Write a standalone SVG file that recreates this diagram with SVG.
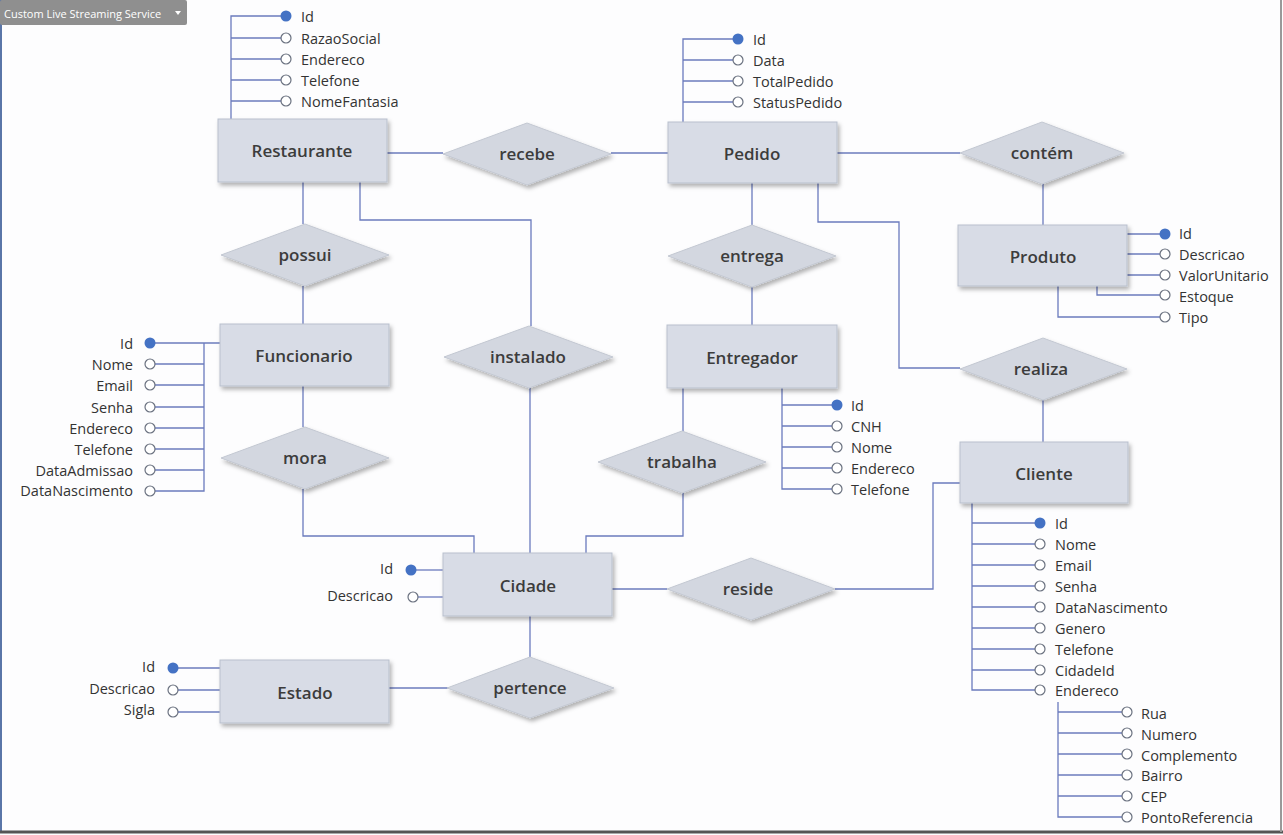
<svg xmlns="http://www.w3.org/2000/svg" width="1283" height="835" viewBox="0 0 1283 835">
<defs>
<filter id="sh" x="-10%" y="-10%" width="130%" height="140%">
<feDropShadow dx="2" dy="3" stdDeviation="2" flood-color="#000" flood-opacity="0.3"/>
</filter>
<style>
.ent{fill:#d8dce6;stroke:#b9c0cd;stroke-width:1;filter:url(#sh)}
.rel{fill:#d3d7e0;stroke:#c3c8d2;stroke-width:1;filter:url(#sh)}
.lbl{font-family:"Open Sans","Noto Sans",sans-serif;font-size:17px;font-weight:600;fill:#3c3c3c;text-anchor:middle;dominant-baseline:central}
.at{font-family:"Open Sans","Noto Sans",sans-serif;font-size:14.5px;fill:#333;dominant-baseline:central}
.atr{font-family:"Open Sans","Noto Sans",sans-serif;font-size:14.5px;fill:#333;dominant-baseline:central;text-anchor:end}
.ln{fill:none;stroke:#6b7bbd;stroke-width:1.3}
.pk{fill:#4472c4}
.op{fill:#fff;stroke:#6b7280;stroke-width:1.2}
</style>
</defs>
<rect width="1283" height="835" fill="#fdfdfe"/>
<line x1="1" y1="0" x2="1" y2="832" stroke="#5a76a8" stroke-width="2"/>
<line x1="0" y1="832" x2="1283" y2="832" stroke="#555" stroke-width="3"/>
<line x1="1281" y1="0" x2="1281" y2="832" stroke="#999" stroke-width="2"/>
<g id="toolbar">
<rect x="0" y="0" width="187" height="25" rx="2" fill="#8f8f8f"/>
<text x="4" y="13" font-family="'Open Sans','Noto Sans',sans-serif" font-size="11" fill="#fff" dominant-baseline="central">Custom Live Streaming Service</text>
<path d="M175 11 L181 11 L178 15 Z" fill="#fff"/>
</g>

<g id="connectors">
<polyline class="ln" points="387,153 443,153"/>
<polyline class="ln" points="611,153 668,153"/>
<polyline class="ln" points="837,153 960,153"/>
<polyline class="ln" points="1043,184 1043,225"/>
<polyline class="ln" points="303,182 303,224"/>
<polyline class="ln" points="303,286 303,324"/>
<polyline class="ln" points="360,182 360,220 531,220 531,326"/>
<polyline class="ln" points="530,388 530,553"/>
<polyline class="ln" points="752,183 752,225"/>
<polyline class="ln" points="752,287 752,325"/>
<polyline class="ln" points="818,183 818,222 899,222 899,368 960,368"/>
<polyline class="ln" points="303,386 303,427"/>
<polyline class="ln" points="303,489 303,536 474,536 474,553"/>
<polyline class="ln" points="683,388 683,431"/>
<polyline class="ln" points="683,493 683,536 586,536 586,553"/>
<polyline class="ln" points="612,589 667,589"/>
<polyline class="ln" points="835,589 933,589 933,483 960,483"/>
<polyline class="ln" points="1043,400 1043,442"/>
<polyline class="ln" points="530,616 530,657"/>
<polyline class="ln" points="449,688 389,688"/>
<polyline class="ln" points="231,119 231,16 286,16"/>
<polyline class="ln" points="231,38 286,38"/>
<polyline class="ln" points="231,59 286,59"/>
<polyline class="ln" points="231,80 286,80"/>
<polyline class="ln" points="231,101 286,101"/>
<polyline class="ln" points="683,122 683,39 738,39"/>
<polyline class="ln" points="683,60 738,60"/>
<polyline class="ln" points="683,81 738,81"/>
<polyline class="ln" points="683,102 738,102"/>
<polyline class="ln" points="1127,234 1165,234"/>
<polyline class="ln" points="1127,254 1165,254"/>
<polyline class="ln" points="1127,275 1165,275"/>
<polyline class="ln" points="1097,286 1097,295 1165,295"/>
<polyline class="ln" points="1058,286 1058,317 1165,317"/>
<polyline class="ln" points="150,343 220,343"/>
<polyline class="ln" points="204,343 204,491 150,491"/>
<polyline class="ln" points="150,364 204,364"/>
<polyline class="ln" points="150,385 204,385"/>
<polyline class="ln" points="150,407 204,407"/>
<polyline class="ln" points="150,428 204,428"/>
<polyline class="ln" points="150,449 204,449"/>
<polyline class="ln" points="150,470 204,470"/>
<polyline class="ln" points="782,388 782,489 837,489"/>
<polyline class="ln" points="782,405 837,405"/>
<polyline class="ln" points="782,426 837,426"/>
<polyline class="ln" points="782,447 837,447"/>
<polyline class="ln" points="782,468 837,468"/>
<polyline class="ln" points="411,570 443,570"/>
<polyline class="ln" points="413,597 443,597"/>
<polyline class="ln" points="173,668 220,668"/>
<polyline class="ln" points="173,690 220,690"/>
<polyline class="ln" points="173,712 220,712"/>
<polyline class="ln" points="972,503 972,690 1040,690"/>
<polyline class="ln" points="972,523 1040,523"/>
<polyline class="ln" points="972,544 1040,544"/>
<polyline class="ln" points="972,565 1040,565"/>
<polyline class="ln" points="972,586 1040,586"/>
<polyline class="ln" points="972,607 1040,607"/>
<polyline class="ln" points="972,628 1040,628"/>
<polyline class="ln" points="972,649 1040,649"/>
<polyline class="ln" points="972,670 1040,670"/>
<polyline class="ln" points="1058,702 1058,817 1127,817"/>
<polyline class="ln" points="1058,712 1127,712"/>
<polyline class="ln" points="1058,733 1127,733"/>
<polyline class="ln" points="1058,754 1127,754"/>
<polyline class="ln" points="1058,775 1127,775"/>
<polyline class="ln" points="1058,796 1127,796"/>
</g>

<g id="restaurante">
<rect class="ent" x="218" y="119" width="169" height="63"/>
<text class="lbl" x="302" y="150">Restaurante</text>
<circle class="pk" cx="286" cy="16" r="5.5"/>
<circle class="op" cx="286" cy="38" r="5"/>
<circle class="op" cx="286" cy="59" r="5"/>
<circle class="op" cx="286" cy="80" r="5"/>
<circle class="op" cx="286" cy="101" r="5"/>
<text class="at" x="301" y="16">Id</text>
<text class="at" x="301" y="38">RazaoSocial</text>
<text class="at" x="301" y="59">Endereco</text>
<text class="at" x="301" y="80">Telefone</text>
<text class="at" x="301" y="101">NomeFantasia</text>
</g>

<g id="pedido">
<rect class="ent" x="668" y="122" width="169" height="61"/>
<text class="lbl" x="752" y="153">Pedido</text>
<circle class="pk" cx="738" cy="39" r="5.5"/>
<circle class="op" cx="738" cy="60" r="5"/>
<circle class="op" cx="738" cy="81" r="5"/>
<circle class="op" cx="738" cy="102" r="5"/>
<text class="at" x="753" y="39">Id</text>
<text class="at" x="753" y="60">Data</text>
<text class="at" x="753" y="81">TotalPedido</text>
<text class="at" x="753" y="102">StatusPedido</text>
</g>

<g id="produto">
<rect class="ent" x="958" y="225" width="169" height="61"/>
<text class="lbl" x="1043" y="256">Produto</text>
<circle class="pk" cx="1165" cy="234" r="5.5"/>
<circle class="op" cx="1165" cy="254" r="5"/>
<circle class="op" cx="1165" cy="275" r="5"/>
<circle class="op" cx="1165" cy="295" r="5"/>
<circle class="op" cx="1165" cy="317" r="5"/>
<text class="at" x="1179" y="233">Id</text>
<text class="at" x="1179" y="254">Descricao</text>
<text class="at" x="1179" y="275">ValorUnitario</text>
<text class="at" x="1179" y="296">Estoque</text>
<text class="at" x="1179" y="317">Tipo</text>
</g>

<g id="funcionario">
<rect class="ent" x="220" y="324" width="169" height="62"/>
<text class="lbl" x="304" y="355">Funcionario</text>
<circle class="pk" cx="150" cy="343" r="5.5"/>
<circle class="op" cx="150" cy="364" r="5"/>
<circle class="op" cx="150" cy="385" r="5"/>
<circle class="op" cx="150" cy="407" r="5"/>
<circle class="op" cx="150" cy="428" r="5"/>
<circle class="op" cx="150" cy="449" r="5"/>
<circle class="op" cx="150" cy="470" r="5"/>
<circle class="op" cx="150" cy="491" r="5"/>
<text class="atr" x="133" y="343">Id</text>
<text class="atr" x="133" y="364">Nome</text>
<text class="atr" x="133" y="385">Email</text>
<text class="atr" x="133" y="407">Senha</text>
<text class="atr" x="133" y="428">Endereco</text>
<text class="atr" x="133" y="449">Telefone</text>
<text class="atr" x="133" y="470">DataAdmissao</text>
<text class="atr" x="133" y="490">DataNascimento</text>
</g>

<g id="entregador">
<rect class="ent" x="667" y="325" width="170" height="63"/>
<text class="lbl" x="752" y="357">Entregador</text>
<circle class="pk" cx="837" cy="405" r="5.5"/>
<circle class="op" cx="837" cy="426" r="5"/>
<circle class="op" cx="837" cy="447" r="5"/>
<circle class="op" cx="837" cy="468" r="5"/>
<circle class="op" cx="837" cy="489" r="5"/>
<text class="at" x="851" y="405">Id</text>
<text class="at" x="851" y="426">CNH</text>
<text class="at" x="851" y="447">Nome</text>
<text class="at" x="851" y="468">Endereco</text>
<text class="at" x="851" y="489">Telefone</text>
</g>

<g id="cidade">
<rect class="ent" x="443" y="553" width="169" height="63"/>
<text class="lbl" x="528" y="585">Cidade</text>
<circle class="pk" cx="411" cy="570" r="5.5"/>
<circle class="op" cx="413" cy="597" r="5"/>
<text class="atr" x="393" y="568">Id</text>
<text class="atr" x="393" y="595">Descricao</text>
</g>

<g id="estado">
<rect class="ent" x="220" y="660" width="169" height="63"/>
<text class="lbl" x="305" y="692">Estado</text>
<circle class="pk" cx="173" cy="668" r="5.5"/>
<circle class="op" cx="173" cy="690" r="5"/>
<circle class="op" cx="173" cy="712" r="5"/>
<text class="atr" x="155" y="666">Id</text>
<text class="atr" x="155" y="688">Descricao</text>
<text class="atr" x="155" y="709">Sigla</text>
</g>

<g id="cliente">
<rect class="ent" x="960" y="442" width="168" height="61"/>
<text class="lbl" x="1044" y="473">Cliente</text>
<circle class="pk" cx="1040" cy="523" r="5.5"/>
<circle class="op" cx="1040" cy="544" r="5"/>
<circle class="op" cx="1040" cy="565" r="5"/>
<circle class="op" cx="1040" cy="586" r="5"/>
<circle class="op" cx="1040" cy="607" r="5"/>
<circle class="op" cx="1040" cy="628" r="5"/>
<circle class="op" cx="1040" cy="649" r="5"/>
<circle class="op" cx="1040" cy="670" r="5"/>
<circle class="op" cx="1040" cy="690" r="5"/>
<text class="at" x="1055" y="523">Id</text>
<text class="at" x="1055" y="544">Nome</text>
<text class="at" x="1055" y="565">Email</text>
<text class="at" x="1055" y="586">Senha</text>
<text class="at" x="1055" y="607">DataNascimento</text>
<text class="at" x="1055" y="628">Genero</text>
<text class="at" x="1055" y="649">Telefone</text>
<text class="at" x="1055" y="670">CidadeId</text>
<text class="at" x="1055" y="690">Endereco</text>
<circle class="op" cx="1127" cy="712" r="5"/>
<circle class="op" cx="1127" cy="733" r="5"/>
<circle class="op" cx="1127" cy="754" r="5"/>
<circle class="op" cx="1127" cy="775" r="5"/>
<circle class="op" cx="1127" cy="796" r="5"/>
<circle class="op" cx="1127" cy="817" r="5"/>
<text class="at" x="1141" y="713">Rua</text>
<text class="at" x="1141" y="734">Numero</text>
<text class="at" x="1141" y="755">Complemento</text>
<text class="at" x="1141" y="775">Bairro</text>
<text class="at" x="1141" y="796">CEP</text>
<text class="at" x="1141" y="817">PontoReferencia</text>
</g>

<g id="recebe"><polygon class="rel" points="443,154 527,123 611,154 527,185"/><text class="lbl" x="527" y="153">recebe</text></g>
<g id="contem"><polygon class="rel" points="960,153 1042,122 1124,153 1042,184"/><text class="lbl" x="1042" y="152">contém</text></g>
<g id="possui"><polygon class="rel" points="221,255 305,224 389,255 305,286"/><text class="lbl" x="305" y="254">possui</text></g>
<g id="entrega"><polygon class="rel" points="668,256 752,225 836,256 752,287"/><text class="lbl" x="752" y="255">entrega</text></g>
<g id="instalado"><polygon class="rel" points="444,357 529,326 613,357 529,388"/><text class="lbl" x="528" y="356">instalado</text></g>
<g id="trabalha"><polygon class="rel" points="598,462 682,431 766,462 682,493"/><text class="lbl" x="682" y="461">trabalha</text></g>
<g id="mora"><polygon class="rel" points="221,458 305,427 389,458 305,489"/><text class="lbl" x="305" y="457">mora</text></g>
<g id="realiza"><polygon class="rel" points="960,369 1043,338 1127,369 1043,400"/><text class="lbl" x="1041" y="368">realiza</text></g>
<g id="reside"><polygon class="rel" points="667,589 751,558 835,589 751,620"/><text class="lbl" x="748" y="588">reside</text></g>
<g id="pertence"><polygon class="rel" points="447,688 530,657 614,688 530,718"/><text class="lbl" x="530" y="687">pertence</text></g>
</svg>
